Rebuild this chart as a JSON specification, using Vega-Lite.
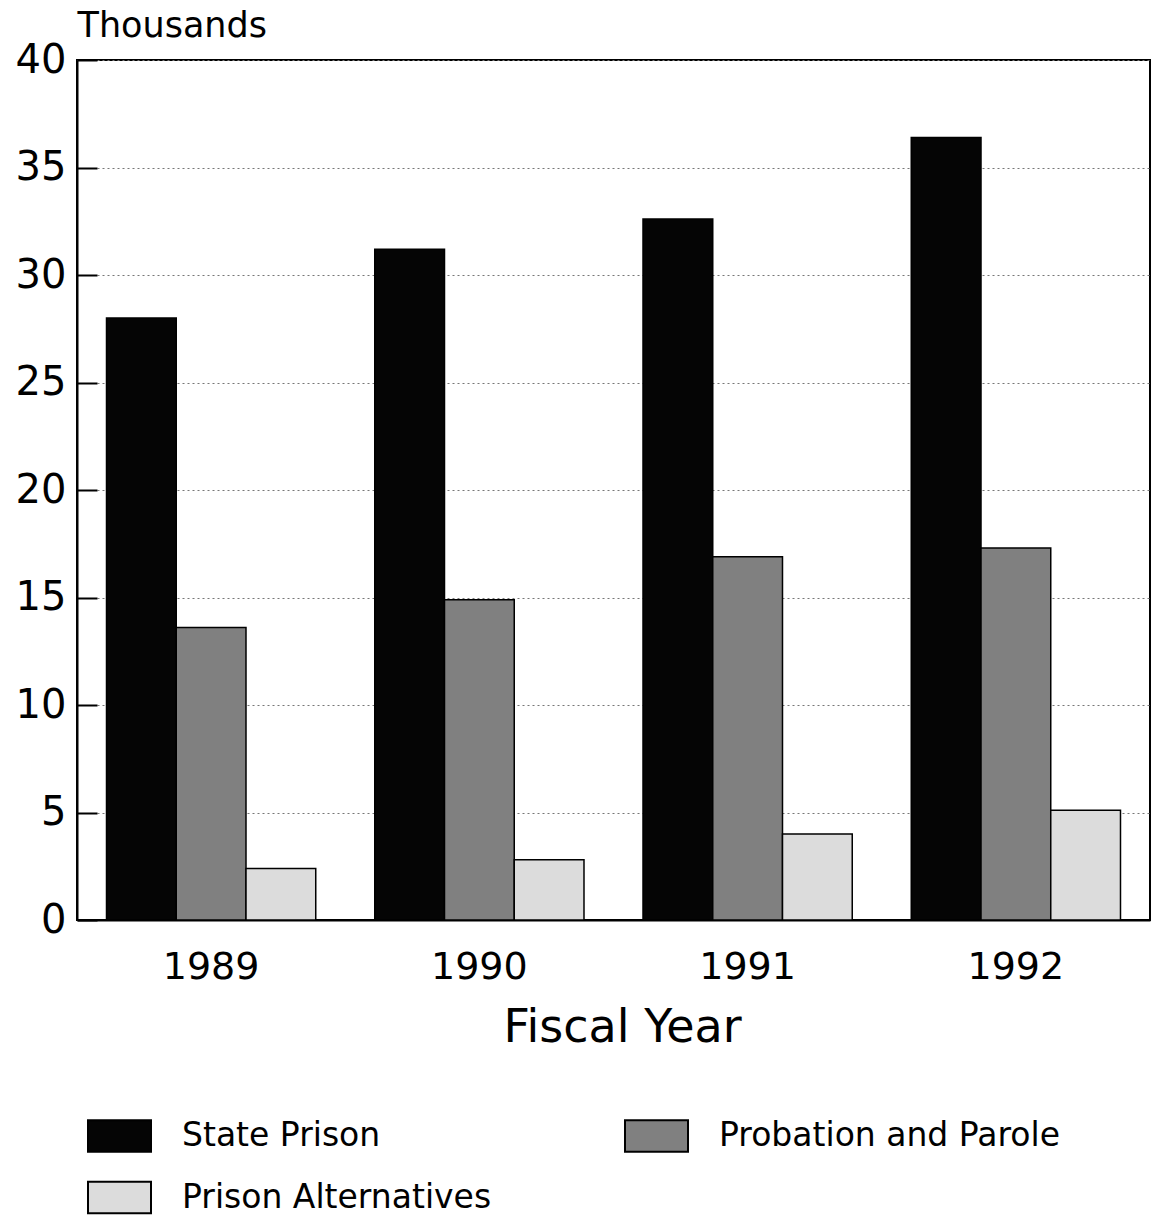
{
  "$schema": "https://vega.github.io/schema/vega-lite/v6.json",
  "autosize": {"type": "none"},
  "padding": {"left": 77, "top": 60, "right": 9, "bottom": 297},
  "width": 1073,
  "height": 860,
  "background": "white",
  "config": {
    "font": "DejaVu Sans",
    "view": {"stroke": "black", "strokeWidth": 2}
  },
  "data": {
    "values": [
      {"year": "1989", "type": "State Prison", "value": 28.0},
      {"year": "1989", "type": "Probation and Parole", "value": 13.6},
      {"year": "1989", "type": "Prison Alternatives", "value": 2.4},
      {"year": "1990", "type": "State Prison", "value": 31.2},
      {"year": "1990", "type": "Probation and Parole", "value": 14.9},
      {"year": "1990", "type": "Prison Alternatives", "value": 2.8},
      {"year": "1991", "type": "State Prison", "value": 32.6},
      {"year": "1991", "type": "Probation and Parole", "value": 16.9},
      {"year": "1991", "type": "Prison Alternatives", "value": 4.0},
      {"year": "1992", "type": "State Prison", "value": 36.4},
      {"year": "1992", "type": "Probation and Parole", "value": 17.3},
      {"year": "1992", "type": "Prison Alternatives", "value": 5.1}
    ]
  },
  "mark": {"type": "bar", "stroke": "black", "strokeWidth": 1.5},
  "encoding": {
    "x": {
      "field": "year",
      "type": "nominal",
      "scale": {"paddingInner": 0.22, "paddingOuter": 0.11},
      "axis": {
        "title": "Fiscal Year",
        "titleFont": "DejaVu Sans",
        "titleFontSize": 46,
        "titleFontWeight": "normal",
        "titleColor": "black",
        "titleBaseline": "alphabetic",
        "titleX": 545,
        "titleY": 121,
        "labelAngle": 0,
        "labelFontSize": 38,
        "labelColor": "black",
        "labelPadding": 28,
        "labelBaseline": "top",
        "ticks": false,
        "domainColor": "black",
        "domainWidth": 2
      }
    },
    "xOffset": {
      "field": "type",
      "type": "nominal",
      "sort": ["State Prison", "Probation and Parole", "Prison Alternatives"],
      "scale": {"paddingInner": 0, "paddingOuter": 0}
    },
    "y": {
      "field": "value",
      "type": "quantitative",
      "scale": {"domain": [0, 40]},
      "axis": {
        "title": "Thousands",
        "titleAngle": 0,
        "titleAlign": "left",
        "titleBaseline": "alphabetic",
        "titleX": 0,
        "titleY": -24,
        "titleFontSize": 35,
        "titleFontWeight": "normal",
        "titleColor": "black",
        "values": [0, 5, 10, 15, 20, 25, 30, 35, 40],
        "labelFontSize": 40,
        "labelColor": "black",
        "labelBaseline": "middle",
        "tickSize": -20,
        "tickColor": "black",
        "tickWidth": 2,
        "labelPadding": 31,
        "domainColor": "black",
        "domainWidth": 2,
        "grid": true,
        "gridColor": "#777777",
        "gridWidth": 1,
        "gridDash": [2, 3]
      }
    },
    "color": {
      "field": "type",
      "type": "nominal",
      "scale": {
        "domain": ["State Prison", "Prison Alternatives", "Probation and Parole"],
        "range": ["#050505", "#dcdcdc", "#808080"]
      },
      "legend": {
        "title": null,
        "orient": "none",
        "legendX": 10,
        "legendY": 1043,
        "columns": 2,
        "columnPadding": 129,
        "rowPadding": 9,
        "symbolType": "M-1,-0.5H1V0.5H-1Z",
        "symbolSize": 3969,
        "symbolStrokeColor": "black",
        "symbolStrokeWidth": 2,
        "symbolOpacity": 1,
        "labelFontSize": 33,
        "labelColor": "black",
        "labelOffset": 30,
        "labelLimit": 500
      }
    }
  }
}
